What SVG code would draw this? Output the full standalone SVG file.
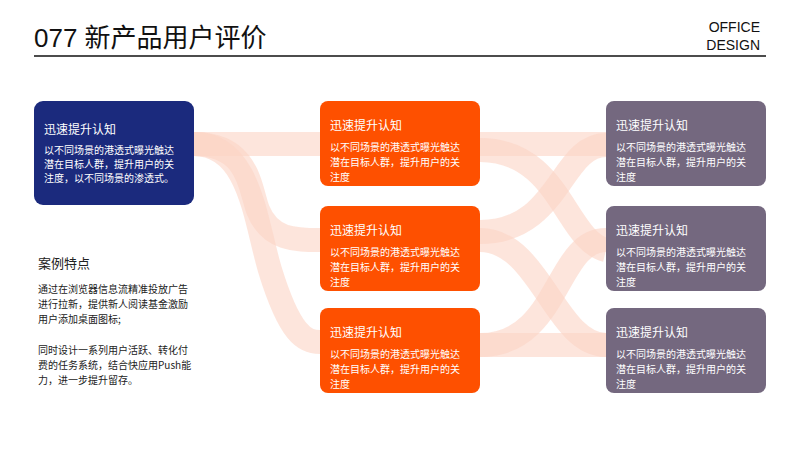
<svg xmlns="http://www.w3.org/2000/svg" width="800" height="450" viewBox="0 0 800 450">
<style>
.b{fill:none;stroke:#fcd3c4;stroke-width:24;opacity:0.6}
.t{font-family:"Noto Sans CJK SC","Noto Sans",sans-serif;fill:#fff}
.h{font-size:12px}
.s{font-size:10px}
.d{font-family:"Noto Sans CJK SC","Noto Sans",sans-serif;fill:#222}
</style>
<rect width="800" height="450" fill="#fff"/>
<text x="34" y="47" font-family="'Liberation Sans','Noto Sans CJK SC',sans-serif" font-size="26" fill="#111">077 新产品用户评价</text>
<text x="760" y="32" text-anchor="end" font-family="'Liberation Sans',sans-serif" font-size="14" fill="#111">OFFICE</text>
<text x="760" y="50" text-anchor="end" font-family="'Liberation Sans',sans-serif" font-size="14" fill="#111">DESIGN</text>
<line x1="34" y1="56" x2="766" y2="56" stroke="#111" stroke-width="1.5"/>
<g id="connectors">
<path class="b" d="M194,144 H320"/>
<path class="b" d="M194,144 C250,144 250,190 258,210 C270,240 295,240 320,240"/>
<path class="b" d="M194,144 C250,144 255,220 270,270 C290,335 305,342 320,342"/>
<path class="b" d="M480,144 H606"/>
<path class="b" d="M480,150 C560,150 565,240 606,250"/>
<path class="b" d="M480,232 C560,232 560,145 606,145"/>
<path class="b" d="M480,240 C540,240 555,345 606,345"/>
<path class="b" d="M480,345 H606"/>
<path class="b" d="M480,345 C560,345 555,240 606,240"/>
</g>
<g id="n0"><rect x="34" y="101" width="160" height="104" rx="9" fill="#1b2a7d"/>
<text class="t h" x="44" y="134">迅速提升认知</text>
<text class="t s" x="44" y="154">以不同场景的港透式曝光触达</text>
<text class="t s" x="44" y="168">潜在目标人群，提升用户的关</text>
<text class="t s" x="44" y="182">注度，以不同场景的渗透式。</text></g>
<g id="o1"><rect x="320" y="101" width="160" height="85" rx="8" fill="#fe5000"/>
<text class="t h" x="330" y="130">迅速提升认知</text>
<text class="t s" x="330" y="151">以不同场景的港透式曝光触达</text>
<text class="t s" x="330" y="166">潜在目标人群，提升用户的关</text>
<text class="t s" x="330" y="181">注度</text></g>
<g id="o2"><rect x="320" y="206" width="160" height="85" rx="8" fill="#fe5000"/>
<text class="t h" x="330" y="235">迅速提升认知</text>
<text class="t s" x="330" y="256">以不同场景的港透式曝光触达</text>
<text class="t s" x="330" y="271">潜在目标人群，提升用户的关</text>
<text class="t s" x="330" y="286">注度</text></g>
<g id="o3"><rect x="320" y="308" width="160" height="85" rx="8" fill="#fe5000"/>
<text class="t h" x="330" y="337">迅速提升认知</text>
<text class="t s" x="330" y="358">以不同场景的港透式曝光触达</text>
<text class="t s" x="330" y="373">潜在目标人群，提升用户的关</text>
<text class="t s" x="330" y="388">注度</text></g>
<g id="g1"><rect x="606" y="101" width="160" height="85" rx="8" fill="#74687f"/>
<text class="t h" x="616" y="130">迅速提升认知</text>
<text class="t s" x="616" y="151">以不同场景的港透式曝光触达</text>
<text class="t s" x="616" y="166">潜在目标人群，提升用户的关</text>
<text class="t s" x="616" y="181">注度</text></g>
<g id="g2"><rect x="606" y="206" width="160" height="85" rx="8" fill="#74687f"/>
<text class="t h" x="616" y="235">迅速提升认知</text>
<text class="t s" x="616" y="256">以不同场景的港透式曝光触达</text>
<text class="t s" x="616" y="271">潜在目标人群，提升用户的关</text>
<text class="t s" x="616" y="286">注度</text></g>
<g id="g3"><rect x="606" y="308" width="160" height="85" rx="8" fill="#74687f"/>
<text class="t h" x="616" y="337">迅速提升认知</text>
<text class="t s" x="616" y="358">以不同场景的港透式曝光触达</text>
<text class="t s" x="616" y="373">潜在目标人群，提升用户的关</text>
<text class="t s" x="616" y="388">注度</text></g>
<g id="notes">
<text class="d" x="38" y="268" font-size="13">案例特点</text>
<text class="d" x="38" y="293" font-size="10">通过在浏览器信息流精准投放广告</text>
<text class="d" x="38" y="308" font-size="10">进行拉新，提供新人阅读基金激励</text>
<text class="d" x="38" y="323" font-size="10">用户添加桌面图标;</text>
<text class="d" x="38" y="354" font-size="10">同时设计一系列用户活跃、转化付</text>
<text class="d" x="38" y="369" font-size="10">费的任务系统，结合快应用Push能</text>
<text class="d" x="38" y="384" font-size="10">力，进一步提升留存。</text>
</g>
</svg>
